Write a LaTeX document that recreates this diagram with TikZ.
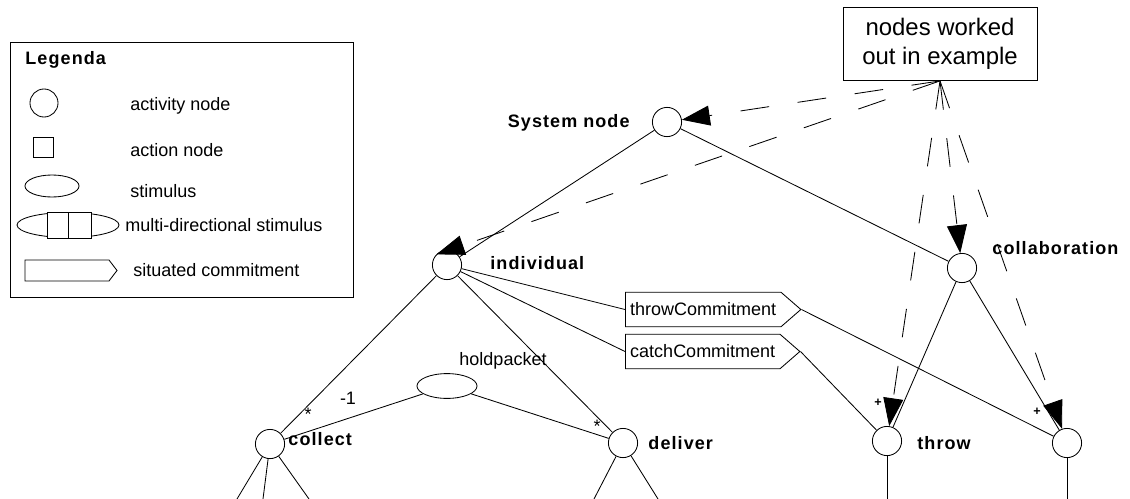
\documentclass[tikz,border=0pt]{standalone}
\usepackage{fontspec}
\setmainfont{Liberation Sans}
\newfontfamily\spacedfont{Liberation Sans}[LetterSpace=6]
\usetikzlibrary{arrows.meta,shapes.geometric,shapes.symbols}

\begin{document}
\begin{tikzpicture}[x=0.025cm,y=-0.025cm,line width=0.6pt,
  every node/.style={inner sep=0pt},
  lab/.style={font=\fontsize{12.8}{15}\selectfont},
  boldlab/.style={font={\spacedfont\bfseries\fontsize{12.8}{15}\selectfont}},
  mult/.style={font=\bfseries\fontsize{9}{10}\selectfont},
  activity/.style={draw,circle,minimum size=0.73cm},
  stimulus/.style={draw,ellipse,minimum width=1.5cm,minimum height=0.62cm},
  commitment/.style={draw,signal,signal to=east,signal pointer angle=82,
    minimum height=0.86cm,inner xsep=0.12cm,lab},
  workedout/.style={dash pattern=on 0.72cm off 0.72cm,
    -{Triangle[length=0.7cm,width=0.5cm]}}]
  \useasboundingbox (0,0) rectangle (1130,499);

  % legend
  \draw (10,42) rectangle (353,297);
  \node[boldlab,anchor=west] (legtitle) at (25,60) {Legenda};
  \draw (44,103) circle[radius=0.35cm];
  \node[lab,anchor=west] (legact) at (130,106) {activity node};
  \draw (33,137) rectangle (53,157);
  \node[lab,anchor=west] (legaction) at (130,150) {action node};
  \draw (52,186) ellipse[x radius=0.675cm,y radius=0.275cm];
  \node[lab,anchor=west] (legstim) at (130,191) {stimulus};
  \draw (68,225) ellipse[x radius=1.275cm,y radius=0.3125cm];
  \draw[fill=white] (47,212) rectangle (91,238);
  \draw (68,212) -- (68,238);
  \node[lab,anchor=west] (legmulti) at (125,225) {multi-directional stimulus};
  \draw (25,260) -- (109,260) -- (117,270.5) -- (109,281) -- (25,281) -- cycle;
  \node[lab,anchor=west] (legsit) at (133,270) {situated commitment};

  % activity tree
  \node[draw,minimum width=4.85cm,minimum height=1.825cm,align=center,
    font=\fontsize{17}{20.6}\selectfont] (note) at (940,44) {nodes worked\\out in example};
  \node[activity] (sys) at (667,122) {};
  \node[boldlab,anchor=east] (syslab) at (630,123) {System node};
  \node[activity] (indiv) at (447,265) {};
  \node[boldlab,anchor=west] (indivlab) at (490,263) {individual};
  \node[activity] (collab) at (962,268) {};
  \node[boldlab,anchor=west] (collablab) at (992,248) {collaboration};
  \node[activity] (collect) at (270,444) {};
  \node[boldlab,anchor=west] (collectlab) at (288,439) {collect};
  \node[activity] (deliver) at (623,443) {};
  \node[boldlab,anchor=west] (deliverlab) at (648,443) {deliver};
  \node[stimulus] (hold) at (447,386) {};
  \node[lab] (holdlab) at (503,361) {holdpacket};
  \node[activity] (throw) at (887,441) {};
  \node[boldlab,anchor=west] (throwlab) at (917,443) {throw};
  \node[activity] (catchact) at (1067,443) {};
  \node[commitment,anchor=west] (throwc) at (625,309.5) {throwCommitment};
  \node[commitment,anchor=west] (catchc) at (625,351.5) {catchCommitment};

  % multiplicities
  \node[lab] (mcollect) at (308,414) {*};
  \node[lab] (mhold) at (348,398) {-1};
  \node[lab] (mdeliver) at (597,426) {*};
  \node[mult] (mthrow) at (878,403) {+};
  \node[mult] (mcatch) at (1037,412) {+};

  \draw (sys) -- (indiv);
  \draw (sys) -- (collab);
  \draw (indiv) -- (collect);
  \draw (indiv) -- (deliver);
  \draw (indiv) -- (throwc.west);
  \draw (indiv) -- (catchc.west);
  \draw (collect) -- (hold);
  \draw (hold) -- (deliver);
  \draw (collab) -- (throw);
  \draw (collab) -- (catchact);
  \draw (throwc.east) -- (catchact);
  \draw (catchc.east) -- (throw);

  % branches running off the bottom
  \coordinate (collectA) at (237,499);
  \coordinate (collectB) at (263,499);
  \coordinate (collectC) at (309,499);
  \coordinate (deliverA) at (594,499);
  \coordinate (deliverB) at (658,499);
  \coordinate (throwA) at (887,499);
  \coordinate (catchA) at (1067,499);
  \draw (collect) -- (collectA);
  \draw (collect) -- (collectB);
  \draw (collect) -- (collectC);
  \draw (deliver) -- (deliverA);
  \draw (deliver) -- (deliverB);
  \draw (throw) -- (throwA);
  \draw (catchact) -- (catchA);

  % pointers from the note
  \draw[workedout] (note.south) -- (sys);
  \draw[workedout] (note.south) -- (indiv.north west);
  \draw[workedout] (note.south) -- (collab);
  \draw[workedout] (note.south) -- (throw);
  \draw[workedout] (note.south) -- (catchact);
\end{tikzpicture}
\end{document}
